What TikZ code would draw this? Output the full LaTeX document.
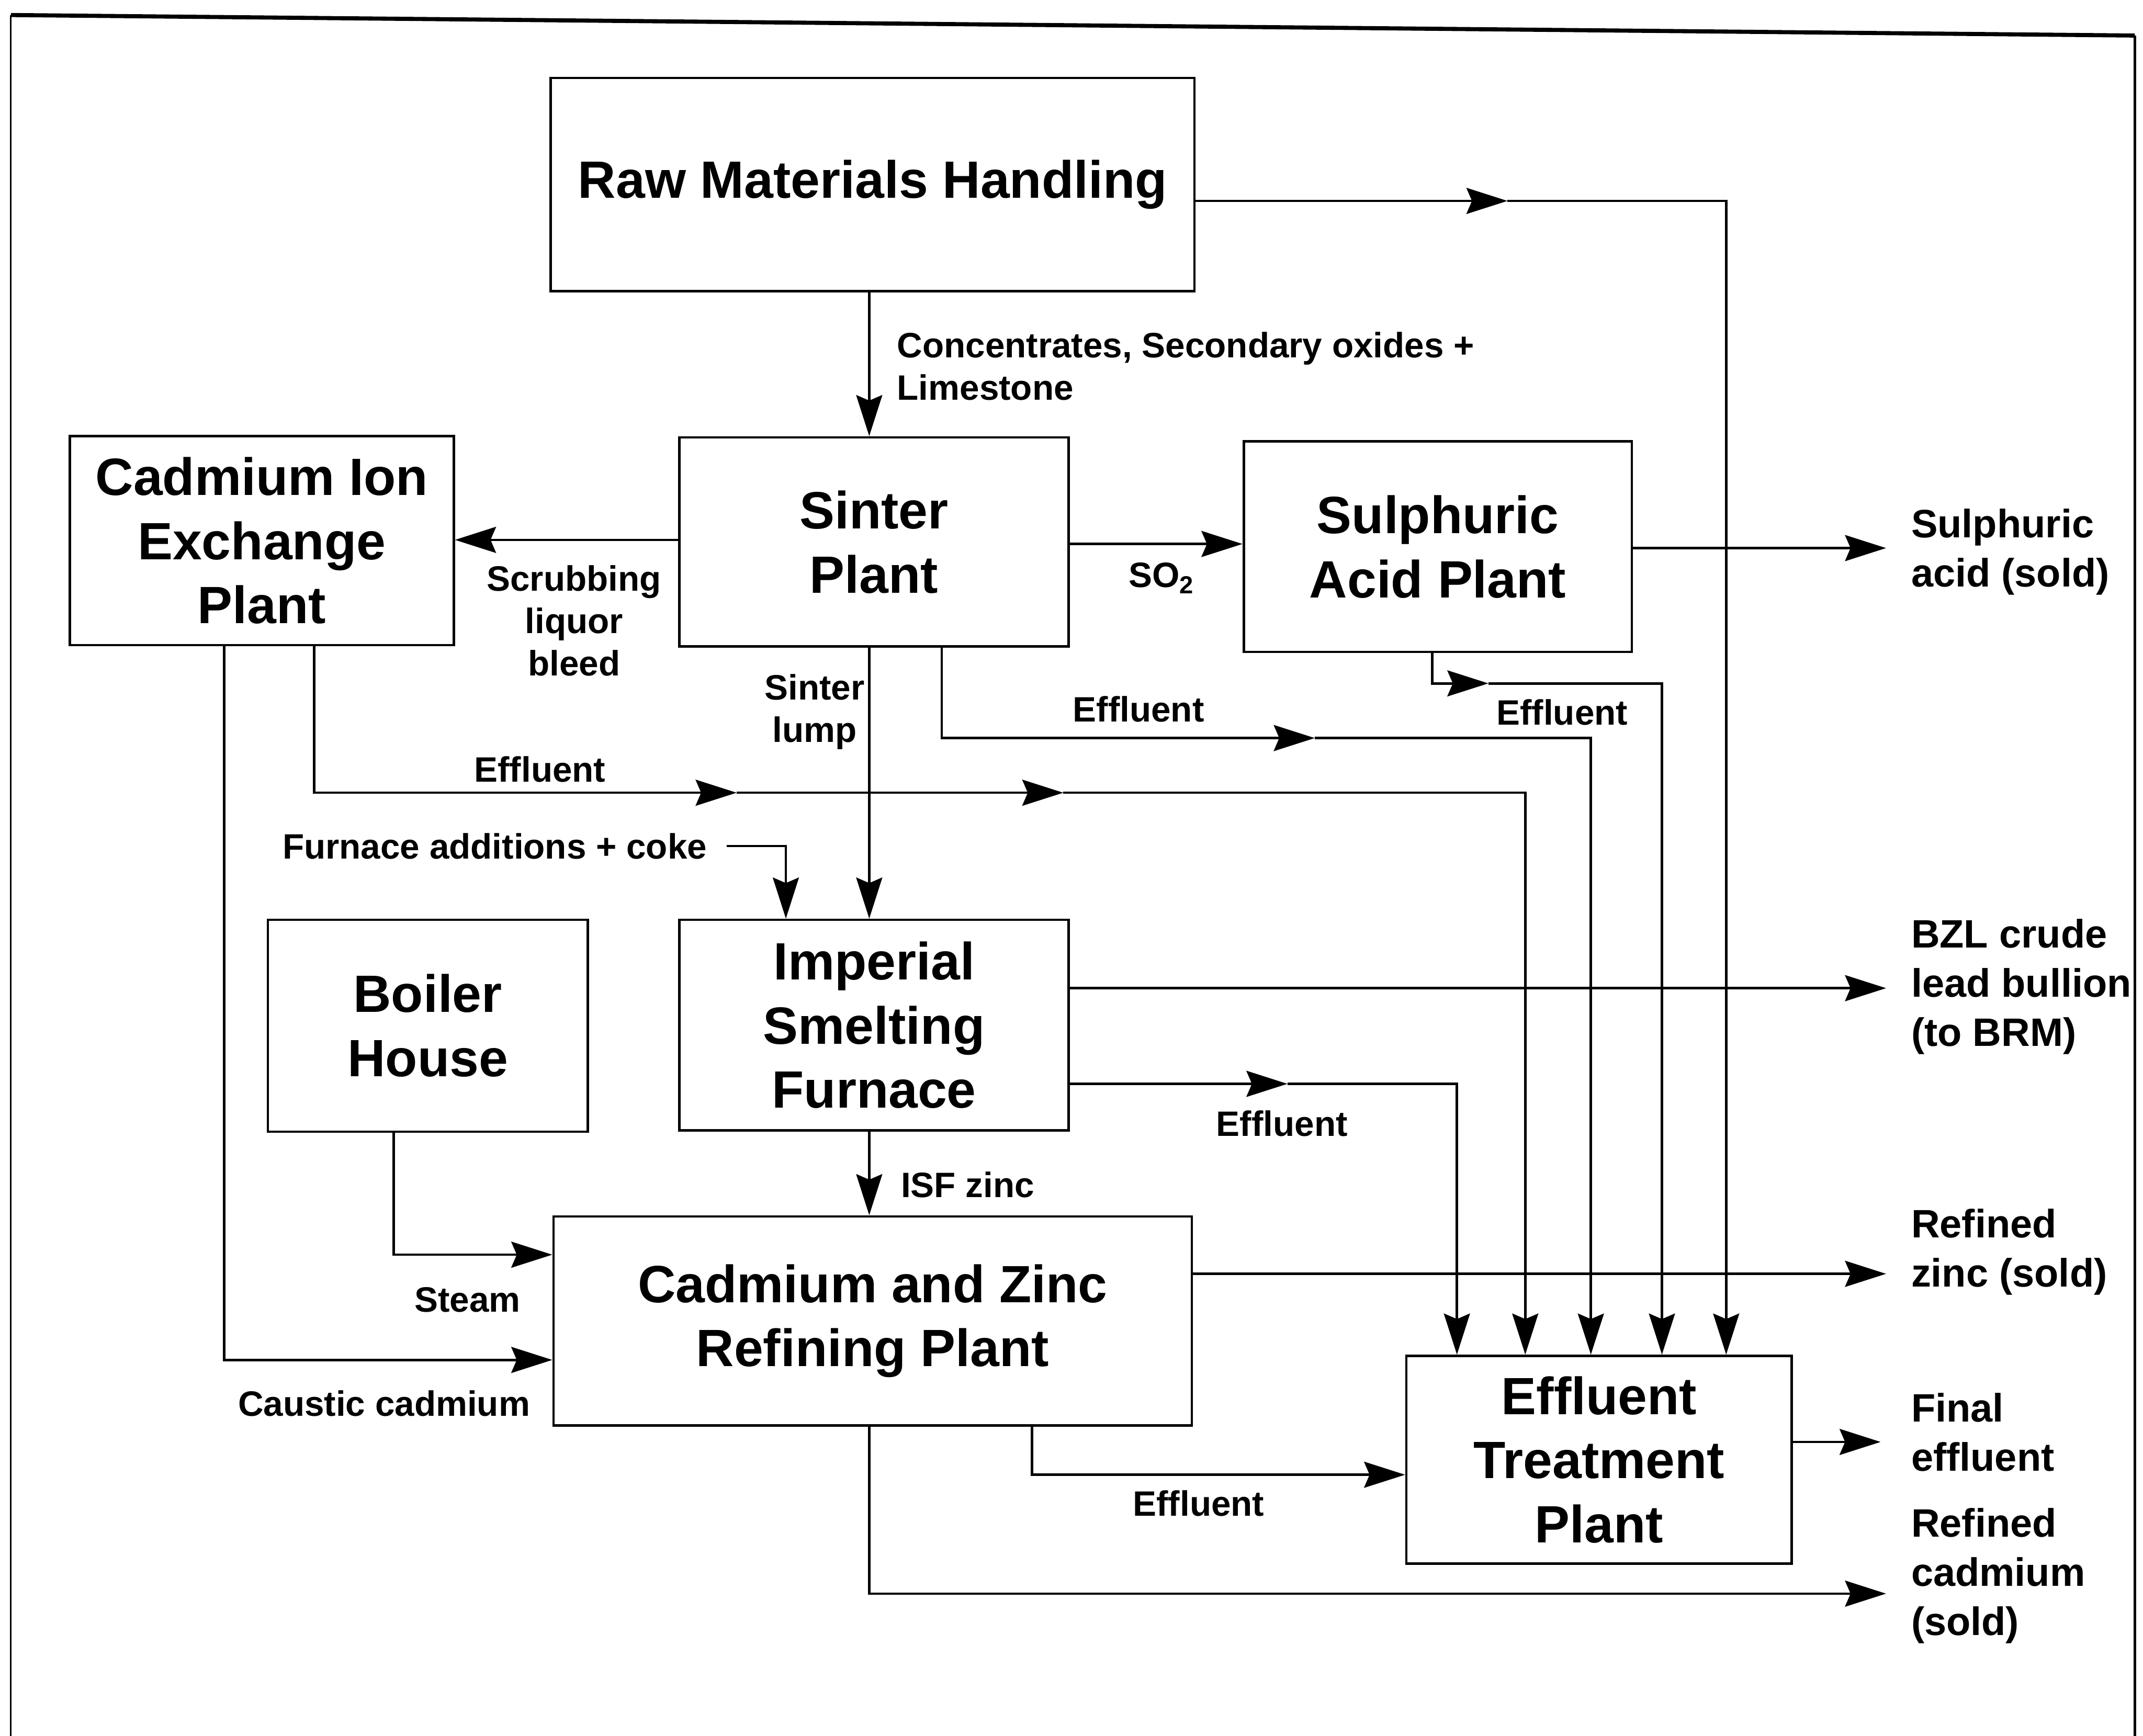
\documentclass[tikz,border=0pt]{standalone}
\usepackage{fontspec}
\setmainfont{Liberation Sans}
\usetikzlibrary{arrows.meta}
\begin{document}
\begin{tikzpicture}[x=0.5pt,y=-0.5pt,
  box/.style={draw, line width=0.9pt, inner sep=0pt, align=center,
    font=\fontsize{19.2}{23.5}\selectfont\bfseries},
  lbl/.style={inner sep=0pt, align=center,
    font=\fontsize{12.9}{15.5}\selectfont\bfseries},
  outlbl/.style={inner sep=0pt, align=left, anchor=west,
    font=\fontsize{14.5}{18}\selectfont\bfseries},
  flow/.style={line width=0.9pt, -{Stealth[length=15pt,width=9.5pt,inset=2pt]}},
  plain/.style={line width=0.9pt}]
\useasboundingbox (0,0) rectangle (1568,1270);
% frame
\draw[line width=1.5pt] (8,11) -- (1562,26);
\draw[line width=0.6pt] (8,11) -- (8,1270);
\draw[line width=0.9pt] (1562,26) -- (1562,1270);

% boxes
\node[box, minimum width=235.5pt, minimum height=78pt] (raw) at (638.5,135) {Raw Materials Handling};
\node[box, minimum width=140.5pt, minimum height=76.5pt] (cie) at (191.5,395.5) {Cadmium Ion\\Exchange\\Plant};
\node[box, minimum width=142.5pt, minimum height=76.5pt] (sinter) at (639.5,396.5) {Sinter\\Plant};
\node[box, minimum width=142pt, minimum height=77pt] (sap) at (1052,400) {Sulphuric\\Acid Plant};
\node[box, minimum width=117pt, minimum height=77.5pt] (boiler) at (313,750.5) {Boiler\\House};
\node[box, minimum width=142.5pt, minimum height=77pt] (isf) at (639.5,750) {Imperial\\Smelting\\Furnace};
\node[box, minimum width=233.5pt, minimum height=76.5pt] (czrp) at (638.5,966.5) {Cadmium and Zinc\\Refining Plant};
\node[box, minimum width=141pt, minimum height=76pt] (etp) at (1170,1068) {Effluent\\Treatment\\Plant};

% labels
\node[lbl, align=left, anchor=west] (conc) at (656,268) {Concentrates, Secondary oxides +\\Limestone};
\node[lbl] (scrub) at (420,454) {Scrubbing\\liquor\\bleed};
\node[lbl] (so2) at (850,423) {SO\textsubscript{2}};
\node[lbl] (lump) at (596,521) {Sinter\\lump};
\node[lbl] (eff1) at (833,519) {Effluent};
\node[lbl] (eff2) at (1143,521) {Effluent};
\node[lbl] (eff3) at (395,563) {Effluent};
\node[lbl] (furn) at (362,619) {Furnace additions + coke};
\node[lbl] (eff4) at (938,822) {Effluent};
\node[lbl] (isfz) at (708,867) {ISF zinc};
\node[lbl] (steam) at (342,951) {Steam};
\node[lbl] (caus) at (281,1027) {Caustic cadmium};
\node[lbl] (eff5) at (877,1100) {Effluent};

\node[outlbl] (oSA) at (1398,404) {Sulphuric\\acid (sold)};
\node[outlbl] (oBZL) at (1398,722) {BZL crude\\lead bullion\\(to BRM)};
\node[outlbl] (oZn) at (1398,916) {Refined\\zinc (sold)};
\node[outlbl] (oFE) at (1398,1048) {Final\\effluent};
\node[outlbl] (oCd) at (1398,1153) {Refined\\cadmium\\(sold)};

% free ends and mid-arrow points
\coordinate (eSA) at (1380,401);
\coordinate (eBZL) at (1380,723);
\coordinate (eZn) at (1380,932);
\coordinate (eFE) at (1376,1055);
\coordinate (eCd) at (1380,1166);
\coordinate (mRaw) at (1103,147);
\coordinate (mSap) at (1089,500);
\coordinate (mSin) at (962,540);
\coordinate (mCie1) at (539,580);
\coordinate (mCie2) at (778,580);
\coordinate (mIsf) at (942,793);

% connectors
\draw[flow] (raw.south -| 636,0) -- (sinter.north -| 636,0);
\draw[flow] (raw.east |- mRaw) -- (mRaw);
\draw[flow] (mRaw) -| (etp.north -| 1263,0);
\draw[flow] (sinter.west |- 0,395) -- (cie.east |- 0,395);
\draw[flow] (sinter.east |- 0,398) -- (sap.west |- 0,398);
\draw[flow] (sap.east |- eSA) -- (eSA);
\draw[flow] (sap.south -| 1048,0) |- (mSap);
\draw[flow] (mSap) -| (etp.north -| 1216,0);
\draw[flow] (sinter.south -| 689,0) |- (mSin);
\draw[flow] (mSin) -| (etp.north -| 1164,0);
\draw[flow] (sinter.south -| 636,0) -- (isf.north -| 636,0);
\draw[flow] (cie.south -| 230,0) |- (mCie1);
\draw[flow] (mCie1) -- (mCie2);
\draw[flow] (mCie2) -| (etp.north -| 1116,0);
\draw[flow] ([xshift=7pt]furn.east) -| (isf.north -| 575,0);
\draw[flow] (isf.east |- eBZL) -- (eBZL);
\draw[flow] (isf.east |- mIsf) -- (mIsf);
\draw[flow] (mIsf) -| (etp.north -| 1066,0);
\draw[flow] (isf.south -| 636,0) -- (czrp.north -| 636,0);
\draw[flow] (boiler.south -| 288,0) |- (czrp.west |- 0,918);
\draw[flow] (cie.south -| 164,0) |- (czrp.west |- 0,995);
\draw[flow] (czrp.east |- eZn) -- (eZn);
\draw[flow] (czrp.south -| 755,0) |- (etp.west |- 0,1079);
\draw[flow] (czrp.south -| 636,0) |- (eCd);
\draw[flow] (etp.east |- eFE) -- (eFE);
\end{tikzpicture}
\end{document}
